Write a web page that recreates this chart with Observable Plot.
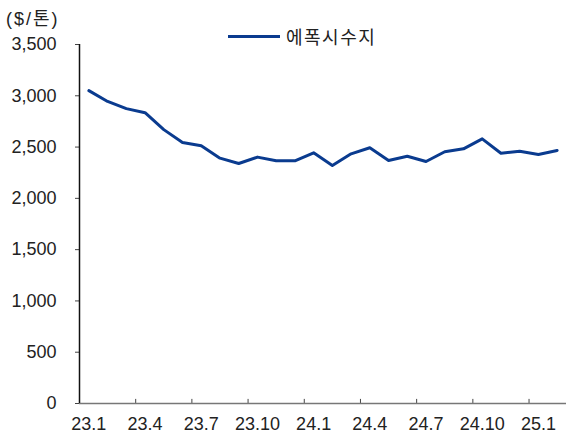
<!DOCTYPE html>
<html><head><meta charset="utf-8">
<script src="https://cdn.jsdelivr.net/npm/d3@7"></script>
<script src="https://cdn.jsdelivr.net/npm/@observablehq/plot@0.6"></script>
<style>
body{margin:0;background:#fff;font-family:"Liberation Sans",Arial,"Noto Sans CJK KR",sans-serif;}
#wrap{position:relative;width:567px;height:434px;}
.unit{position:absolute;left:6px;top:4px;font-size:18px;color:#222;letter-spacing:2px;}
.legend{position:absolute;left:228px;top:23px;font-size:18px;color:#222;display:flex;align-items:center;font-family:"Noto Sans CJK KR",sans-serif;letter-spacing:1.5px;}
.legend span.sw{display:inline-block;width:52px;height:3px;background:#0a3b8f;margin-right:6px;}
</style></head>
<body><div id="wrap"><div class="unit">($/톤)</div><div class="legend"><span class="sw"></span><span>에폭시수지</span></div></div>
<script>
const months = ["23.1","23.2","23.3","23.4","23.5","23.6","23.7","23.8","23.9","23.10","23.11","23.12",
"24.1","24.2","24.3","24.4","24.5","24.6","24.7","24.8","24.9","24.10","24.11","24.12","25.1","25.2"];
const epoxy = [3050,2945,2875,2835,2670,2545,2512,2392,2340,2402,2366,2366,
2444,2320,2434,2493,2369,2411,2359,2454,2483,2580,2440,2460,2428,2467];
const tickLabels = ["23.1","23.4","23.7","23.10","24.1","24.4","24.7","24.10","25.1"];
const yTicks = [0,500,1000,1500,2000,2500,3000,3500];

const data = months.map((m,i)=>({i, m, v: epoxy[i]}));
const labelIdx = tickLabels.map(l => months.indexOf(l));
const tickPos = labelIdx.filter(i => i > 0).map(i => i - 0.5);
const fmt = d3.format(",");

const chart = Plot.plot({
  width: 567, height: 434,
  marginLeft: 79, marginRight: 1, marginTop: 44, marginBottom: 31,
  style: {fontSize: "18px", fontFamily: "'Liberation Sans', Arial, sans-serif", color: "#222", background: "transparent"},
  x: {type: "linear", domain: [-0.5, months.length - 0.5]},
  y: {domain: [0, 3500]},
  marks: [
    Plot.axisY({ticks: yTicks, tickFormat: fmt, tickSize: 4, tickPadding: 19, label: null, stroke: "#444"}),
    Plot.axisX({ticks: labelIdx, tickFormat: i => months[i], tickSize: 0, tickPadding: 14, label: null}),
    Plot.ruleX(tickPos, {x: d => d, y1: 0, y2: 40, stroke: "#444"}),
    Plot.ruleY([0], {stroke: "#777", strokeWidth: 1.5}),
    Plot.ruleX([-0.5], {stroke: "#111", strokeWidth: 1.5}),
    Plot.line(data, {x: "i", y: "v", stroke: "#0a3b8f", strokeWidth: 3, strokeLinejoin: "round"})
  ]
});
chart.style.position = "absolute";
chart.style.left = "0"; chart.style.top = "0";
document.getElementById("wrap").appendChild(chart);
</script></body></html>
